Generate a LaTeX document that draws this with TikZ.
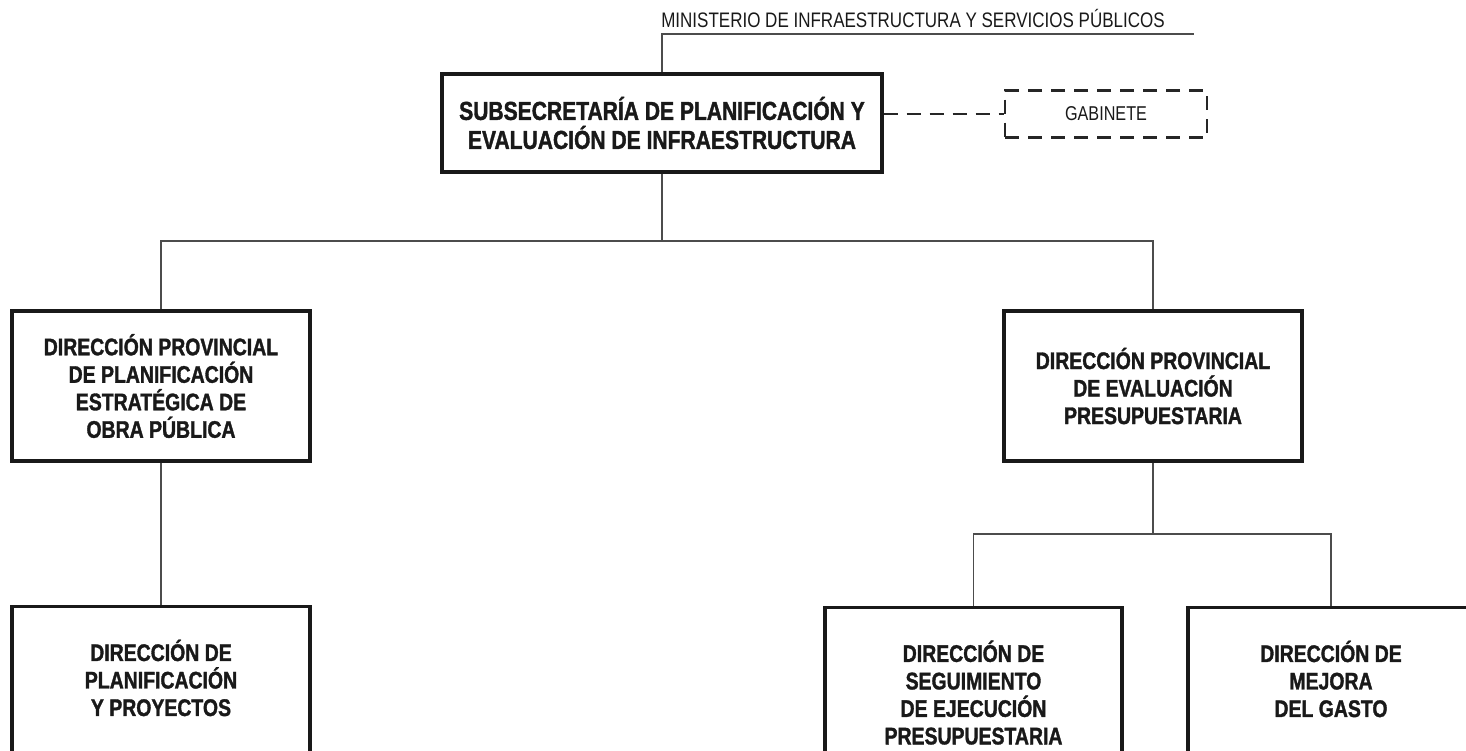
\documentclass[tikz,border=0pt]{standalone}
\usepackage{fontspec}
\setmainfont{Liberation Sans}[FakeStretch=0.81, BoldFeatures={FakeBold=1.4}]
\usepackage{tikz}

\tikzset{
  unidad/.style={draw=black!90, line width=3.2pt, align=center, inner sep=0pt,
    minimum width=298pt, text=black!90, font=\fontsize{24}{27.5}\selectfont\bfseries},
  link/.style={draw=black!70, line width=1.4pt},
  dashlink/.style={draw=black!85, line width=2.4pt, dash pattern=on 14pt off 9pt},
}

\begin{document}
\begin{tikzpicture}[x=1pt,y=-1pt]
                \useasboundingbox (0,0) rectangle (1466,750);
                \clip (0,0) rectangle (1466,750);
                % ministerio
                \node[anchor=base, text=black!90, font=\fontsize{21}{23}\selectfont] (min) at (913,27) {MINISTERIO DE INFRAESTRUCTURA Y SERVICIOS PÚBLICOS};
                \coordinate (minB) at (1194,34);
                % subsecretaria y gabinete
                \node[unidad, minimum width=440pt, minimum height=98pt, font=\fontsize{26}{29}\selectfont\bfseries] (subsec) at (662,123) {SUBSECRETARÍA DE PLANIFICACIÓN Y\\EVALUACIÓN DE INFRAESTRUCTURA};
                \node[dashlink, minimum width=202pt, minimum height=47pt, inner sep=0pt, text=black!90, font=\fontsize{20}{22}\selectfont] (gab) at (1106,114) {GABINETE};
                % direcciones provinciales
                \node[unidad, minimum height=150pt] (dppe) at (161,386) {DIRECCIÓN PROVINCIAL\\DE PLANIFICACIÓN\\ESTRATÉGICA DE\\OBRA PÚBLICA};
                \node[unidad, minimum height=150pt] (dpep) at (1153,386) {DIRECCIÓN PROVINCIAL\\DE EVALUACIÓN\\PRESUPUESTARIA};
                % direcciones
                \node[unidad, anchor=north, minimum height=170pt] (dpyp) at (161,605) {DIRECCIÓN DE\\PLANIFICACIÓN\\Y PROYECTOS\\\mbox{}};
                \node[unidad, anchor=north, minimum height=170pt, minimum width=297pt] (dsep) at (973.5,606) {DIRECCIÓN DE\\SEGUIMIENTO\\DE EJECUCIÓN\\PRESUPUESTARIA};
                \node[unidad, anchor=north, minimum height=170pt, minimum width=286pt] (dmg) at (1331,606) {DIRECCIÓN DE\\MEJORA\\DEL GASTO\\\mbox{}};
                \coordinate (bus) at (662,241);
                \coordinate (subbus) at (1153,534);
                % conectores
                \draw[link] (subsec.north) |- (minB);
                \draw[dashlink] (subsec.east |- gab.west) -- (gab.west);
                \draw[link] (subsec.south) -- (bus);
                \draw[link] (dppe.north) |- (bus) -| (dpep.north);
                \draw[link] (dppe.south) -- (dpyp.north);
                \draw[link] (dpep.south) -- (subbus);
                \draw[link] (dsep.north) |- (subbus) -| (dmg.north);
\end{tikzpicture}
\end{document}
